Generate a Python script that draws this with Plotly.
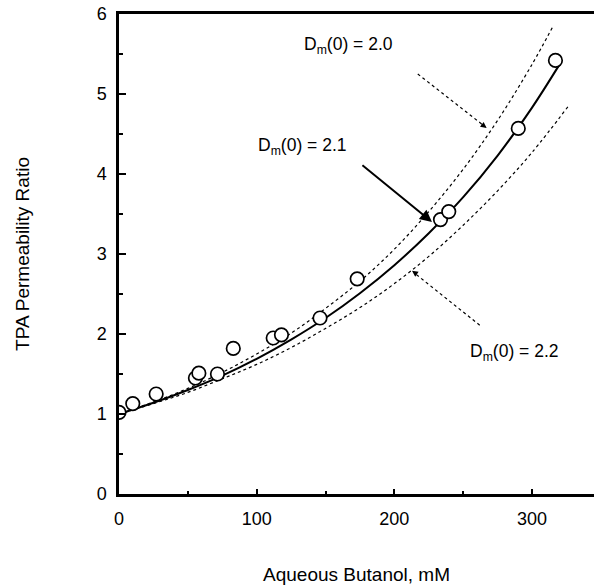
import plotly.graph_objects as go

# Measured points
butanol_mM = [0, 10, 27, 55.5, 58, 71.5, 83, 112, 118, 146, 173, 233.5, 239.5, 290, 317]
perm_ratio = [1.02, 1.13, 1.25, 1.45, 1.51, 1.50, 1.82, 1.95, 1.99, 2.20, 2.69, 3.43, 3.53, 4.57, 5.42]

# Curves
curve_x = [0, 25, 50, 75, 100, 125, 150, 175, 200, 225, 250, 275, 300, 320]
fit_21 = [1.0, 1.14, 1.30, 1.48, 1.69, 1.93, 2.20, 2.51, 2.86, 3.26, 3.71, 4.23, 4.83, 5.37]
curve20_x = [0, 25, 50, 75, 100, 125, 150, 175, 200, 225, 250, 275, 300, 315]
fit_20 = [1.0, 1.15, 1.32, 1.52, 1.75, 2.01, 2.32, 2.66, 3.06, 3.53, 4.06, 4.67, 5.37, 5.84]
curve22_x = [0, 25, 50, 75, 100, 125, 150, 175, 200, 225, 250, 275, 300, 326]
fit_22 = [1.0, 1.13, 1.27, 1.44, 1.62, 1.83, 2.07, 2.33, 2.63, 2.97, 3.36, 3.79, 4.27, 4.84]

x_ticks = [0, 100, 200, 300]
y_ticks = [0, 1, 2, 3, 4, 5, 6]

FONT = "Liberation Sans, Arial, sans-serif"

fig = go.Figure()
fig.add_trace(go.Scatter(x=curve20_x, y=fit_20, mode="lines", line=dict(color="black", width=1.2, dash="dot", shape="spline")))
fig.add_trace(go.Scatter(x=curve22_x, y=fit_22, mode="lines", line=dict(color="black", width=1.2, dash="dot", shape="spline")))
fig.add_trace(go.Scatter(x=curve_x, y=fit_21, mode="lines", line=dict(color="black", width=2, shape="spline")))
fig.add_trace(go.Scatter(x=butanol_mM, y=perm_ratio, mode="markers",
                         marker=dict(symbol="circle", size=13.5, color="white", line=dict(color="black", width=1.7))))

# Dotted arrow shafts
fig.add_shape(type="line", x0=217, y0=5.25, x1=266, y1=4.59, line=dict(color="black", width=1.2, dash="dot"))
fig.add_shape(type="line", x0=262, y0=2.11, x1=214, y1=2.77, line=dict(color="black", width=1.2, dash="dot"))

ann = []
# arrowheads for dotted arrows
ann.append(dict(x=267, y=4.575, ax=262, ay=4.64, xref="x", yref="y", axref="x", ayref="y", text="",
                showarrow=True, arrowhead=2, arrowsize=1.2, arrowwidth=1, arrowcolor="black"))
ann.append(dict(x=212.8, y=2.79, ax=217, ay=2.74, xref="x", yref="y", axref="x", ayref="y", text="",
                showarrow=True, arrowhead=2, arrowsize=1.2, arrowwidth=1, arrowcolor="black"))
# solid arrow
ann.append(dict(x=227.3, y=3.40, ax=175.7, ay=4.125, xref="x", yref="y", axref="x", ayref="y", text="",
                showarrow=True, arrowhead=2, arrowsize=1.2, arrowwidth=2, arrowcolor="black"))
labels = [("D<sub>m</sub>(0) = 2.0", 166.9, 5.61), ("D<sub>m</sub>(0) = 2.1", 133.6, 4.34), ("D<sub>m</sub>(0) = 2.2", 286.9, 1.775)]
for t, x, y in labels:
    ann.append(dict(x=x, y=y, xref="x", yref="y", text=t, showarrow=False, font=dict(family=FONT, size=17.5, color="black")))

fig.update_layout(
    width=594, height=587,
    margin=dict(l=119, r=0, t=14, b=93),
    paper_bgcolor="white", plot_bgcolor="white",
    showlegend=False,
    font=dict(family=FONT, size=18, color="black"),
    annotations=ann,
)
fig.update_xaxes(range=[0, 345], tickvals=x_ticks, ticks="inside", ticklen=5, tickwidth=1.5, tickcolor="black",
                 minor=dict(dtick=50, tick0=0, ticks="inside", ticklen=3, tickwidth=1.5, tickcolor="black"),
                 showline=True, linewidth=2.5, linecolor="black", mirror=True, showgrid=False, zeroline=False,
                 ticklabelstandoff=7,
                 title=dict(text="Aqueous Butanol, mM", font=dict(size=19), standoff=40))
fig.update_yaxes(range=[0, 6], tickvals=y_ticks, ticks="inside", ticklen=7, tickwidth=1.5, tickcolor="black",
                 minor=dict(dtick=0.5, tick0=0, ticks="inside", ticklen=4, tickwidth=1.5, tickcolor="black"),
                 showline=True, linewidth=2.5, linecolor="black", showgrid=False, zeroline=False,
                 ticklabelstandoff=6,
                 title=dict(text="TPA Permeability Ratio", font=dict(size=19), standoff=62))

fig.write_html("out.html")
